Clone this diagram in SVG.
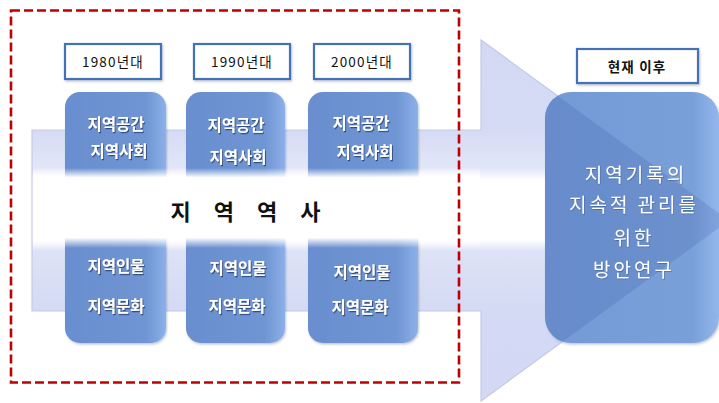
<svg xmlns="http://www.w3.org/2000/svg" width="719" height="403" viewBox="0 0 719 403">
  <defs>
    <style>
      .yr { fill: #ffffff; stroke: #4472b4; stroke-width: 2.2; }
      .yt { font-family: "Noto Sans CJK KR", "Noto Sans", sans-serif; font-size: 13.5px; fill: #111111; text-anchor: middle; letter-spacing: 1.2px; }
      .col { fill: url(#colGrad); }
      .ct { font-family: "Noto Sans CJK KR", "Noto Sans", sans-serif; font-size: 15.5px; font-weight: bold; fill: #ffffff; text-anchor: middle; filter: url(#tshadow); }
      .rt { font-family: "Noto Sans CJK KR", "Noto Sans", sans-serif; font-size: 19px; fill: #ffffff; text-anchor: middle; letter-spacing: 3px; filter: url(#tshadow2); }
    </style>
    <linearGradient id="arrowGrad" gradientUnits="userSpaceOnUse" x1="0" y1="40" x2="0" y2="401">
      <stop offset="0" stop-color="#d3d9f4"/>
      <stop offset="0.249" stop-color="#d6dbf5"/>
      <stop offset="0.355" stop-color="#e2e6f8"/>
      <stop offset="0.388" stop-color="#ffffff"/>
      <stop offset="0.554" stop-color="#ffffff"/>
      <stop offset="0.585" stop-color="#dde2f6"/>
      <stop offset="0.751" stop-color="#d4daf4"/>
      <stop offset="1" stop-color="#d3d9f4"/>
    </linearGradient>
    <linearGradient id="bandGrad" x1="0" y1="0" x2="0" y2="1">
      <stop offset="0" stop-color="#ffffff" stop-opacity="0"/>
      <stop offset="0.12" stop-color="#ffffff" stop-opacity="1"/>
      <stop offset="0.87" stop-color="#ffffff" stop-opacity="1"/>
      <stop offset="1" stop-color="#ffffff" stop-opacity="0"/>
    </linearGradient>
    <linearGradient id="colGrad" x1="0" y1="0" x2="1" y2="0">
      <stop offset="0" stop-color="#6a8ecf"/>
      <stop offset="0.8" stop-color="#6f95d3"/>
      <stop offset="1" stop-color="#8cb0e8"/>
    </linearGradient>
    <linearGradient id="boxGrad" x1="0" y1="0" x2="1" y2="0">
      <stop offset="0" stop-color="#739ad6"/>
      <stop offset="0.85" stop-color="#7aa0d9"/>
      <stop offset="1" stop-color="#93b6ec"/>
    </linearGradient>
    <clipPath id="boxClip">
      <rect x="545" y="92" width="174" height="251" rx="26"/>
    </clipPath>
    <filter id="tshadow" x="-20%" y="-40%" width="140%" height="180%">
      <feDropShadow dx="1" dy="1.2" stdDeviation="0.7" flood-color="#1c315f" flood-opacity="0.75"/>
    </filter>
    <filter id="tshadow2" x="-20%" y="-40%" width="140%" height="180%">
      <feDropShadow dx="0.6" dy="0.8" stdDeviation="0.6" flood-color="#2a4478" flood-opacity="0.5"/>
    </filter>
    <filter id="bshadow" x="-10%" y="-10%" width="125%" height="125%">
      <feDropShadow dx="1" dy="1.5" stdDeviation="1.2" flood-color="#4a5a80" flood-opacity="0.35"/>
    </filter>
  </defs>

  <rect x="0" y="0" width="719" height="403" fill="#ffffff"/>

  <g id="connectors">
    <path id="bigArrow" d="M32,130 H481 V40 L729,220.5 L481,401 V311 H32 Z" fill="url(#arrowGrad)" stroke="#c4cae6" stroke-width="1.2"/>
  </g>

  <g id="col-1980">
    <rect class="col" x="65" y="92" width="101" height="251" rx="15" filter="url(#bshadow)"/>
  </g>
  <g id="col-1990">
    <rect class="col" x="186" y="92" width="99" height="251" rx="15" filter="url(#bshadow)"/>
  </g>
  <g id="col-2000">
    <rect class="col" x="308" y="92" width="110" height="251" rx="15" filter="url(#bshadow)"/>
  </g>

  <rect x="33" y="168" width="447" height="80" fill="url(#bandGrad)"/>

  <g id="label-history">
    <text x="250" y="220" font-family="'Noto Sans CJK KR', 'Noto Sans', sans-serif" font-size="22" font-weight="bold" fill="#111111" text-anchor="middle" letter-spacing="9">지 역 역 사</text>
  </g>

  <g id="col-texts">
    <text class="ct" x="116" y="130">지역공간</text>
    <text class="ct" x="119" y="157">지역사회</text>
    <text class="ct" x="116" y="272">지역인물</text>
    <text class="ct" x="116" y="312">지역문화</text>

    <text class="ct" x="236" y="131">지역공간</text>
    <text class="ct" x="238" y="163">지역사회</text>
    <text class="ct" x="238" y="274">지역인물</text>
    <text class="ct" x="237" y="312">지역문화</text>

    <text class="ct" x="361" y="129">지역공간</text>
    <text class="ct" x="365" y="158">지역사회</text>
    <text class="ct" x="362" y="278">지역인물</text>
    <text class="ct" x="360" y="313">지역문화</text>
  </g>

  <g id="year-1980">
    <rect class="yr" x="65" y="44" width="96" height="35" filter="url(#bshadow)"/>
    <text class="yt" x="113" y="67">1980년대</text>
  </g>
  <g id="year-1990">
    <rect class="yr" x="194" y="44" width="96" height="35" filter="url(#bshadow)"/>
    <text class="yt" x="242" y="67">1990년대</text>
  </g>
  <g id="year-2000">
    <rect class="yr" x="314" y="44" width="96" height="35" filter="url(#bshadow)"/>
    <text class="yt" x="362" y="67">2000년대</text>
  </g>

  <g id="future">
    <rect class="yr" x="577" y="49" width="121" height="34" filter="url(#bshadow)"/>
    <text class="yt" x="637" y="72" font-weight="bold">현재 이후</text>
  </g>

  <g id="research-box">
    <rect x="545" y="92" width="174" height="251" rx="26" fill="url(#boxGrad)" filter="url(#bshadow)"/>
    <path d="M32,130 H481 V40 L729,220.5 L481,401 V311 H32 Z" fill="#1f3f8a" fill-opacity="0.15" clip-path="url(#boxClip)"/>
    <text class="rt" x="636" y="182">지역기록의</text>
    <text class="rt" x="634" y="212">지속적 관리를</text>
    <text class="rt" x="634" y="245">위한</text>
    <text class="rt" x="634" y="277">방안연구</text>
  </g>

  <rect id="era-frame" x="11" y="10.5" width="448" height="372" fill="none" stroke="#c00000" stroke-width="2.6" stroke-dasharray="9 4"/>
</svg>
